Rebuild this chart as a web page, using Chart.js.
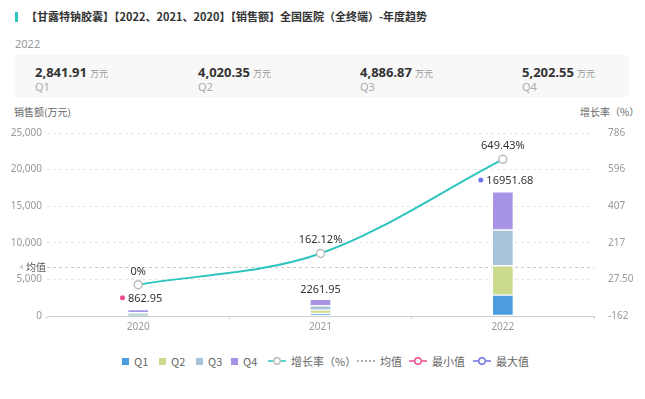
<!DOCTYPE html>
<html>
<head>
<meta charset="utf-8">
<script src="https://cdn.jsdelivr.net/npm/chart.js@4/dist/chart.umd.min.js"></script>
<style>
  body { margin:0; width:645px; height:399px; background:#fff; font-family:"Noto Sans","Noto Sans CJK SC",sans-serif; position:relative; overflow:hidden; }
  .bar { position:absolute; left:15px; top:12px; width:3px; height:10px; background:#2ec4bf; }
  .title { position:absolute; left:26px; top:8px; font-size:11px; font-weight:bold; color:#333; font-family:"Noto Sans CJK SC",sans-serif; }
  .year { position:absolute; left:15px; top:36px; font-size:11px; color:#999; }
  .card { position:absolute; left:15px; top:55px; width:614px; height:42px; background:#f8f8f8; }
  .kpi { position:absolute; top:5px; }
  .kpi .v { font-size:13px; font-weight:bold; color:#333; }
  .kpi .u { font-size:9px; color:#999; font-family:"Noto Sans CJK SC",sans-serif; margin-left:3px; }
  .kpi .q { font-size:11px; color:#aaa; margin-top:-3px; }
  .axt { position:absolute; top:104px; font-size:10px; color:#666; font-family:"Noto Sans CJK SC",sans-serif; }
  #wrap { position:absolute; left:0; top:100px; width:645px; height:240px; }
  .leg { position:absolute; top:352px; font-size:11px; color:#666; font-family:"Noto Sans CJK SC",sans-serif; height:14px; line-height:14px; }
  .leg span { display:inline-block; vertical-align:middle; }
</style>
</head>
<body>
<div class="bar"></div>
<div class="title">【甘露特钠胶囊】【2022、2021、2020】【销售额】全国医院（全终端）-年度趋势</div>
<div class="year">2022</div>
<div class="card" id="card"></div>
<div class="axt" style="left:14px">销售额(万元)</div>
<div class="axt" style="left:580px">增长率（%）</div>
<div id="wrap"><canvas id="myChart" width="645" height="240"></canvas></div>
<div id="legend"></div>
<script>
// DATA
const years = ['2020', '2021', '2022'];
const quarterNames = ['Q1', 'Q2', 'Q3', 'Q4'];
const q1 = [150, 350, 2841.91];
const q2 = [150, 450, 4020.35];
const q3 = [152.95, 600, 4886.87];
const q4 = [410, 861.95, 5202.55];
const totals = [862.95, 2261.95, 16951.68];
const growth = [0, 162.12, 649.43];
const leftTicks = [0, 5000, 10000, 15000, 20000, 25000];
const rightTickLabels = ['-162', '27.50', '217', '407', '596', '786'];
const cardYear = 2; // 2022

const quarterColors = ['#4b9de0', '#cadb8f', '#a8c2da', '#a794e6'];
const lineColor = '#2ec4bf';
const minColor = '#ea4b8b';
const maxColor = '#6f72e4';
const FONT = '"Noto Sans","Noto Sans CJK SC",sans-serif';

// CARD
const card = document.getElementById('card');
const kpiX = [20, 183, 345, 507];
[q1, q2, q3, q4].forEach((arr, i) => {
  const d = document.createElement('div');
  d.className = 'kpi';
  d.style.left = kpiX[i] + 'px';
  const v = arr[cardYear].toLocaleString('en-US', {minimumFractionDigits: 2, maximumFractionDigits: 2});
  d.innerHTML = '<span class="v">' + v + '</span><span class="u">万元</span><div class="q">' + quarterNames[i] + '</div>';
  card.appendChild(d);
});

// LEGEND
const legend = document.getElementById('legend');
function legItem(left, icon, text) {
  const d = document.createElement('div');
  d.className = 'leg';
  d.style.left = left + 'px';
  d.innerHTML = icon + '<span style="margin-left:5px">' + text + '</span>';
  legend.appendChild(d);
}
const sq = c => '<span style="width:7px;height:7px;background:' + c + '"></span>';
const lc = (c, dash) => '<svg width="18" height="10" style="vertical-align:middle"><line x1="0" y1="5" x2="18" y2="5" stroke="' + c + '" stroke-width="1.5"' + (dash ? ' stroke-dasharray="2,2"' : '') + '/>' + (dash ? '' : '<circle cx="9" cy="5" r="3.2" fill="#fff" stroke="' + (c === lineColor ? '#bbb' : c) + '" stroke-width="1.4"/>') + '</svg>';
const legX = [122, 159, 196, 231];
quarterNames.forEach((q, i) => legItem(legX[i], sq(quarterColors[i]), q));
legItem(268, lc(lineColor), '增长率（%）');
legItem(357, lc('#999', true), '均值');
legItem(409, lc(minColor), '最小值');
legItem(473, lc(maxColor), '最大值');

// PLUGINS
const mean = totals.reduce((a, b) => a + b, 0) / totals.length;
const minIdx = totals.indexOf(Math.min(...totals));
const maxIdx = totals.indexOf(Math.max(...totals));

const extras = {
  id: 'extras',
  beforeDatasetsDraw(chart) {
    const {ctx, chartArea, scales} = chart;
    const y = scales.y.getPixelForValue(mean);
    ctx.save();
    ctx.strokeStyle = '#c8c8c8';
    ctx.lineWidth = 1;
    ctx.setLineDash([3, 3]);
    ctx.beginPath();
    ctx.moveTo(chartArea.left, Math.round(y) + 0.5);
    ctx.lineTo(chartArea.right, Math.round(y) + 0.5);
    ctx.stroke();
    ctx.setLineDash([]);
    ctx.fillStyle = '#ccc';
    ctx.beginPath();
    ctx.moveTo(19, y);
    ctx.lineTo(23, y - 2.5);
    ctx.lineTo(23, y + 2.5);
    ctx.fill();
    ctx.fillStyle = '#555';
    ctx.font = '10px "Noto Sans CJK SC",sans-serif';
    ctx.textBaseline = 'middle';
    ctx.fillText('均值', 26, y);
    ctx.restore();
  },
  afterDatasetsDraw(chart) {
    const {ctx, scales} = chart;
    ctx.save();
    ctx.font = '11px ' + FONT;
    ctx.textBaseline = 'alphabetic';
    // totals
    totals.forEach((t, i) => {
      const x = scales.x.getPixelForValue(i);
      const y = scales.y.getPixelForValue(t);
      const txt = t.toFixed(2);
      if (i === minIdx || i === maxIdx) {
        const w = ctx.measureText(txt).width;
        const start = x + 3 - (w + 8) / 2;
        ctx.fillStyle = i === minIdx ? minColor : maxColor;
        ctx.beginPath();
        ctx.arc(start + 2.5, y - 12, 2.5, 0, Math.PI * 2);
        ctx.fill();
        ctx.fillStyle = '#333';
        ctx.textAlign = 'left';
        ctx.fillText(txt, start + 8, y - 8);
      } else {
        ctx.fillStyle = '#333';
        ctx.textAlign = 'center';
        ctx.fillText(txt, x, y - 6);
      }
    });
    // growth labels
    const meta = chart.getDatasetMeta(4);
    meta.data.forEach((pt, i) => {
      ctx.fillStyle = '#333';
      ctx.textAlign = 'center';
      ctx.fillText(growth[i] + '%', pt.x, pt.y - 10);
    });
    ctx.restore();
  }
};

// CONFIG
const datasets = [q1, q2, q3, q4].map((arr, i) => ({
  type: 'bar',
  label: quarterNames[i],
  data: arr,
  backgroundColor: quarterColors[i],
  borderColor: '#fff',
  borderWidth: 1,
  borderSkipped: false,
  barThickness: 21,
  stack: 's',
  yAxisID: 'y',
  order: 2
}));
datasets.push({
  type: 'line',
  label: '增长率（%）',
  data: growth,
  borderColor: lineColor,
  borderWidth: 2,
  cubicInterpolationMode: 'monotone',
  pointRadius: 4,
  pointBackgroundColor: '#fff',
  pointBorderColor: '#bbb',
  pointBorderWidth: 1.5,
  yAxisID: 'y1',
  order: 0
});

const config = {
  data: { labels: years, datasets },
  options: {
    responsive: false,
    animation: false,
    layout: { padding: { top: 33, left: 0, right: 0, bottom: 0 } },
    plugins: { legend: { display: false }, tooltip: { enabled: false } },
    scales: {
      x: {
        stacked: true,
        offset: true,
        grid: { display: true, offset: true, drawOnChartArea: false, tickLength: 3, color: '#ccc' },
        border: { color: '#ccc' },
        ticks: { color: '#999', font: { size: 10, family: FONT }, padding: 2 },
        afterFit(s) { s.height = 24; }
      },
      y: {
        stacked: true,
        position: 'left',
        min: 0, max: 25000,
        afterBuildTicks(s) { s.ticks = leftTicks.map(v => ({ value: v })); },
        ticks: { color: '#999', font: { size: 10, family: FONT }, padding: 5,
          callback: v => v.toLocaleString('en-US') },
        grid: { color: '#e6e6e6', tickLength: 0, drawTicks: false },
        border: { display: false, dash: [3, 3] },
        afterFit(s) { s.width = 47; }
      },
      y1: {
        position: 'right',
        min: -162, max: 786,
        afterBuildTicks(s) { s.ticks = rightTickLabels.map((t, i) => ({ value: -162 + i * 189.6 })); },
        ticks: { color: '#999', font: { size: 10, family: FONT }, padding: 6,
          callback: (v, i) => rightTickLabels[i] },
        grid: { display: false },
        border: { display: false },
        afterFit(s) { s.width = 51; }
      }
    }
  },
  plugins: [extras]
};

// RENDER
let myChart = new Chart(document.getElementById('myChart'), config);
</script>
</body>
</html>
